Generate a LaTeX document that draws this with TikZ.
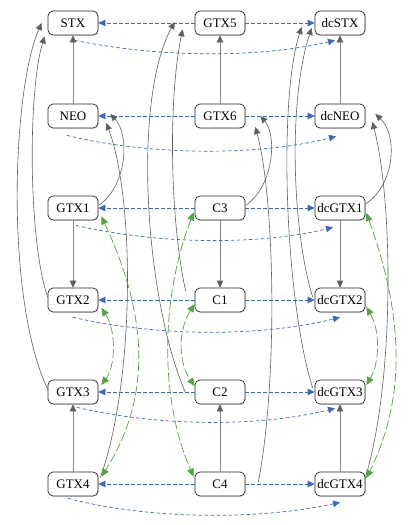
\documentclass[tikz,border=0pt]{standalone}
\usepackage{fontspec}
\setmainfont{Liberation Serif}
\usetikzlibrary{arrows.meta,calc,shadows}
\definecolor{bl}{RGB}{60,105,190}
\definecolor{gr}{RGB}{80,165,60}
\definecolor{lg}{RGB}{135,135,135}
\definecolor{dg}{RGB}{95,95,95}
\begin{document}
\begin{tikzpicture}[x=1pt,y=-1pt,
  box/.style={draw=black!85, rounded corners=5pt, minimum width=50pt, minimum height=24pt,
    inner sep=1pt, fill=white, line width=0.7pt, font=\fontsize{13pt}{15pt}\selectfont,
    drop shadow={shadow xshift=0.8pt, shadow yshift=-0.8pt, opacity=0.25}},
  vert/.style={draw=lg, line width=0.7pt, -{Triangle[length=7pt,width=6.5pt,color=dg]}},
  curv/.style={draw=dg, line width=0.6pt, -{Triangle[length=7pt,width=6.5pt,color=dg]}},
  bh/.style={draw=bl, line width=0.7pt, dash pattern=on 3.5pt off 2.5pt, -{Triangle[length=7pt,width=6.5pt]}},
  grn/.style={draw=gr, line width=0.7pt, dash pattern=on 9pt off 3pt,
    {Triangle[length=8pt,width=7pt]}-{Triangle[length=8pt,width=7pt]}}]
\useasboundingbox (0,0) rectangle (410,525);

% nodes
\node[box] (STX)  at (73,23)  {STX};
\node[box] (NEO)  at (73,116) {NEO};
\node[box] (GTX1) at (73,208) {GTX1};
\node[box] (GTX2) at (73,300) {GTX2};
\node[box] (GTX3) at (73,392) {GTX3};
\node[box] (GTX4) at (73,484) {GTX4};
\node[box] (GTX5) at (220,23)  {GTX5};
\node[box] (GTX6) at (220,116) {GTX6};
\node[box] (C3)   at (220,208) {C3};
\node[box] (C1)   at (220,300) {C1};
\node[box] (C2)   at (220,392) {C2};
\node[box] (C4)   at (220,484) {C4};
\node[box] (dcSTX)  at (340,23)  {dcSTX};
\node[box] (dcNEO)  at (340,116) {dcNEO};
\node[box] (dcGTX1) at (340,208) {dcGTX1};
\node[box] (dcGTX2) at (340,300) {dcGTX2};
\node[box] (dcGTX3) at (340,392) {dcGTX3};
\node[box] (dcGTX4) at (340,484) {dcGTX4};

% vertical arrows
\draw[vert] (NEO) -- (STX);
\draw[vert] (GTX6) -- (GTX5);
\draw[vert] (dcNEO) -- (dcSTX);
\draw[vert] (GTX1) -- (GTX2);
\draw[vert] (C3) -- (C1);
\draw[vert] (dcGTX1) -- (dcGTX2);
\draw[vert] (GTX4) -- (GTX3);
\draw[vert] (C4) -- (C2);
\draw[vert] (dcGTX4) -- (dcGTX3);

% horizontal blue dashed
\foreach \m/\l/\r in {GTX5/STX/dcSTX, GTX6/NEO/dcNEO, C3/GTX1/dcGTX1, C1/GTX2/dcGTX2, C2/GTX3/dcGTX3, C4/GTX4/dcGTX4}{
  \draw[bh] (\m.west) -- (\l.east);
  \draw[bh] (\m.east) -- (\r.west);
}

% long blue dashed curves
\draw[bh] ($(STX.south)+(2,5)$) .. controls (160,58) and (260,58) .. ($(dcSTX.south)+(-5,5)$);
\draw[bh] ($(NEO.south)+(-6,7)$) .. controls (150,156) and (260,156) .. ($(dcNEO.south)+(-4,8)$);
\draw[bh] ($(GTX1.south)+(3,5)$) .. controls (160,245) and (260,245) .. ($(dcGTX1.south)+(-7,7)$);
\draw[bh] ($(GTX2.south)+(0,5)$) .. controls (160,337) and (260,337) .. ($(dcGTX2.south)+(0,5)$);
\draw[bh] ($(GTX3.south)+(4,3)$) .. controls (160,427) and (260,427) .. ($(dcGTX3.south)+(-5,4)$);
\draw[bh] ($(GTX4.south)+(-5,2)$) .. controls (150,520) and (260,520) .. ($(dcGTX4.south)+(0,6)$);

% gray curved arrows
\draw[curv] ($(GTX3.west)+(0,-3)$) .. controls (5,300) and (12,90) .. ($(STX.west)+(-6,0)$);
\draw[curv] ($(GTX2.west)+(0,-3)$) .. controls (28,240) and (28,90) .. ($(STX.south west)+(-3,1)$);
\draw[curv] ($(GTX1.east)+(1,-3)$) .. controls (127,185) and (130,135) .. ($(NEO.east)+(12,-2)$);
\draw[curv] ($(GTX4.north east)+(2,6)$) .. controls (135,380) and (135,200) .. ($(NEO.east)+(8,7)$);
\draw[curv] ($(C3.east)+(1,-3)$) .. controls (274,185) and (277,135) .. ($(GTX6.east)+(15,0)$);
\draw[curv] ($(C4.east)+(13,-2)$) .. controls (278,380) and (275,200) .. ($(GTX6.east)+(10,11)$);
\draw[curv] ($(dcGTX1.east)+(0,-4)$) .. controls (395,185) and (398,135) .. ($(dcNEO.east)+(10,-2)$);
\draw[curv] ($(dcGTX4.north east)+(0,6)$) .. controls (395,380) and (393,200) .. ($(dcNEO.east)+(7,6)$);
\draw[curv] ($(C2.west)+(-9,1)$) .. controls (145,300) and (132,100) .. ($(GTX5.west)+(-20,-1)$);
\draw[curv] ($(C1.west)+(-9,-9)$) .. controls (170,220) and (168,100) .. ($(GTX5.south west)+(-12,-6)$);
\draw[curv] ($(dcGTX3.west)+(-2,-4)$) .. controls (285,300) and (278,100) .. ($(dcSTX.west)+(-13,4)$);
\draw[curv] ($(dcGTX2.west)+(-2,-3)$) .. controls (292,230) and (288,100) .. ($(dcSTX.west)+(-3,5)$);

% green dashed double arrows
\draw[grn] ($(GTX1.south east)+(3,-4)$) .. controls (150,320) and (150,400) .. ($(GTX4.north east)+(3,5)$);
\draw[grn] ($(GTX2.east)+(3,8)$) .. controls (116,330) and (116,365) .. ($(GTX3.east)+(3,-7)$);
\draw[grn] ($(C3.south west)+(-1,-8)$) .. controls (160,300) and (160,400) .. ($(C4.north west)+(-1,5)$);
\draw[grn] ($(C1.west)+(0,4)$) .. controls (178,330) and (178,362) .. ($(C2.west)+(0,-6)$);
\draw[grn] ($(dcGTX1.east)+(1,5)$) .. controls (405,320) and (405,400) .. ($(dcGTX4.east)+(1,-6)$);
\draw[grn] ($(dcGTX2.east)+(1,7)$) .. controls (380,330) and (380,362) .. ($(dcGTX3.east)+(1,-7)$);
\end{tikzpicture}
\end{document}
